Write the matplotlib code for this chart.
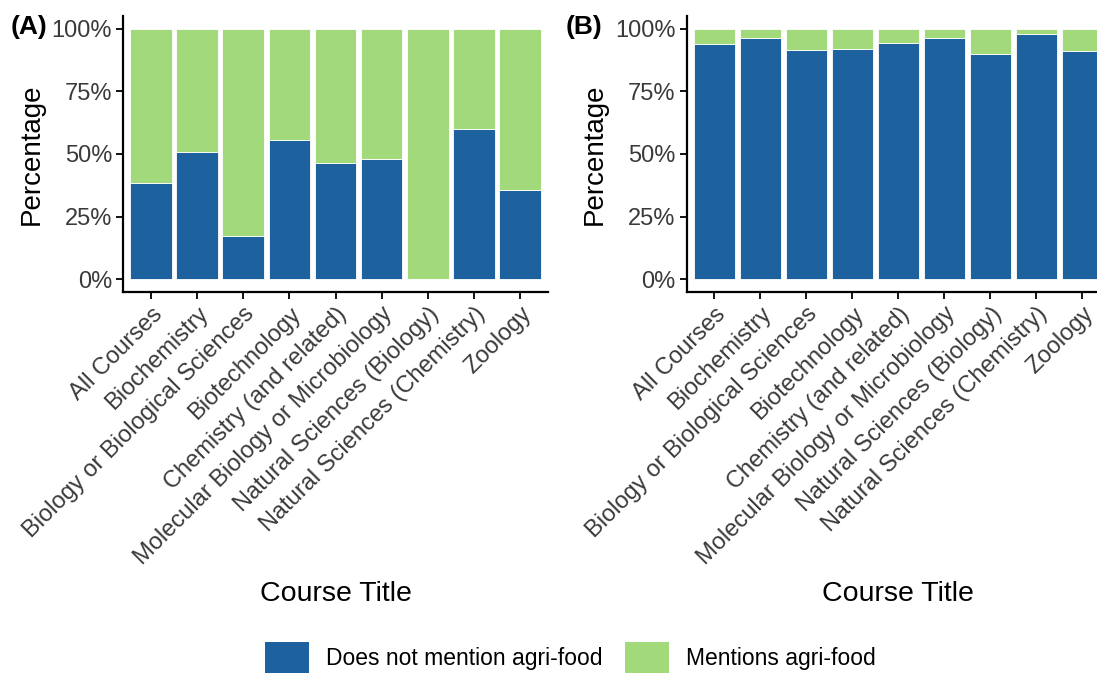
import matplotlib
matplotlib.use("Agg")
import matplotlib.pyplot as plt
import matplotlib.ticker as mticker
from matplotlib.patches import Patch
import numpy as np

plt.rcParams['font.family'] = ['Liberation Sans', 'DejaVu Sans']

courses = ["All Courses", "Biochemistry", "Biology or Biological Sciences",
           "Biotechnology", "Chemistry (and related)",
           "Molecular Biology or Microbiology", "Natural Sciences (Biology)",
           "Natural Sciences (Chemistry)", "Zoology"]

# share (%) of courses that do not mention agri-food
panel_a_not = [38.4, 50.8, 17.4, 55.5, 46.3, 48.2, 0.0, 59.9, 35.6]
panel_b_not = [93.7, 96.4, 91.6, 92.0, 94.4, 96.4, 89.8, 98.0, 91.2]

legend_labels = ["Does not mention agri-food", "Mentions agri-food"]
blue = "#1d619f"
green = "#a2d97a"
tick_col = "#3a3a3a"

W, H = 1097, 673
fig = plt.figure(figsize=(W / 100, H / 100), dpi=100)


def draw_panel(ax, not_vals, tag, tag_x):
    x = np.arange(len(courses))
    not_frac = np.array(not_vals) / 100
    ax.bar(x, not_frac, width=0.9, color=blue, edgecolor="white", linewidth=0.6)
    ax.bar(x, 1 - not_frac, bottom=not_frac, width=0.9, color=green,
           edgecolor="white", linewidth=0.6)
    ax.set_xlim(-0.6, len(courses) - 0.4)
    ax.set_ylim(-0.05, 1.05)
    ax.yaxis.set_major_locator(mticker.FixedLocator([0, 0.25, 0.5, 0.75, 1.0]))
    ax.yaxis.set_major_formatter(mticker.PercentFormatter(xmax=1, decimals=0))
    ax.set_xticks(x)
    ax.set_xticklabels(courses, rotation=45, ha="right", va="top",
                       rotation_mode="anchor")
    for s in ["top", "right"]:
        ax.spines[s].set_visible(False)
    for s in ["left", "bottom"]:
        ax.spines[s].set_linewidth(1.6)
    ax.tick_params(axis="both", length=5, width=1.3, labelsize=17,
                   labelcolor=tick_col, pad=3)
    ax.set_xlabel("Course Title", fontsize=20.5, labelpad=8)
    ax.set_ylabel("Percentage", fontsize=20, labelpad=5)
    fig.text(tag_x / W, 1 - 27 / H, tag, fontsize=19, fontweight="bold",
             va="center", ha="left")


bottom = (H - 292) / H
height = (292 - 16) / H
ax_a = fig.add_axes([123.3 / W, bottom, (547.7 - 123.3) / W, height])
ax_b = fig.add_axes([686.7 / W, bottom, (1110 - 686.7) / W, height])

draw_panel(ax_a, panel_a_not, "(A)", 11)
draw_panel(ax_b, panel_b_not, "(B)", 566)

handles = [Patch(facecolor=blue), Patch(facecolor=green)]
fig.legend(handles, legend_labels, ncol=2, frameon=False, loc="center",
           bbox_to_anchor=(0.52, 1 - 658 / H), fontsize=16.5,
           handlelength=1.9, handleheight=1.75, handletextpad=0.75,
           columnspacing=1.0)

fig.savefig("out.png", dpi=100)
